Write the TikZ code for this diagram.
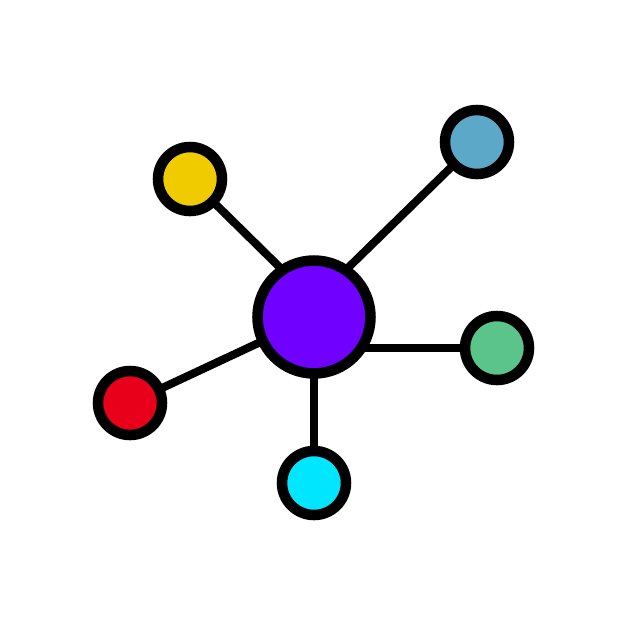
\documentclass[tikz,border=0pt]{standalone}
\usepackage{tikz}
\usetikzlibrary{backgrounds}

\definecolor{hubpurple}{HTML}{7000FF}
\definecolor{dotyellow}{HTML}{EFCB00}
\definecolor{dotblue}{HTML}{5BA8C8}
\definecolor{dotgreen}{HTML}{5BC48A}
\definecolor{dotred}{HTML}{E8001B}
\definecolor{dotcyan}{HTML}{00E6FF}

\begin{document}
\begin{tikzpicture}[x=0.02cm,y=-0.02cm]
    \tikzset{hub/.style={circle,draw=black,line width=6pt,minimum size=2.26cm,inner sep=0pt}}
    \tikzset{dot/.style={circle,draw=black,line width=6pt,minimum size=1.28cm,inner sep=0pt}}
    \tikzset{link/.style={draw=black,line width=4.6pt}}

    \useasboundingbox (0,0) rectangle (626,626);

    % Centre
    \node[hub,fill=hubpurple] (hub) at (314,317) {};
    \coordinate (hubup) at (314,301);

    % Outer dots
    \node[dot,fill=dotyellow] (yellow) at (190,179) {};
    \node[dot,fill=dotblue]   (blue)   at (477,142) {};
    \node[dot,fill=dotgreen]  (green)  at (497,348) {};
    \node[dot,fill=dotred]    (red)    at (130,403) {};
    \node[dot,fill=dotcyan]   (cyan)   at (314,483) {};

    % Links behind the dots
    \begin{pgfonlayer}{background}
      \fill[white] (0,0) rectangle (626,626);
      \draw[link] (yellow.center) -- (hubup);
      \draw[link] (blue.center) -- (hubup);
      \draw[link] (green.center) -- (green.center -| hub.center);
      \draw[link] (red.center) -- (hub.center);
      \draw[link] (cyan.center) -- (hub.center);
    \end{pgfonlayer}
\end{tikzpicture}
\end{document}
